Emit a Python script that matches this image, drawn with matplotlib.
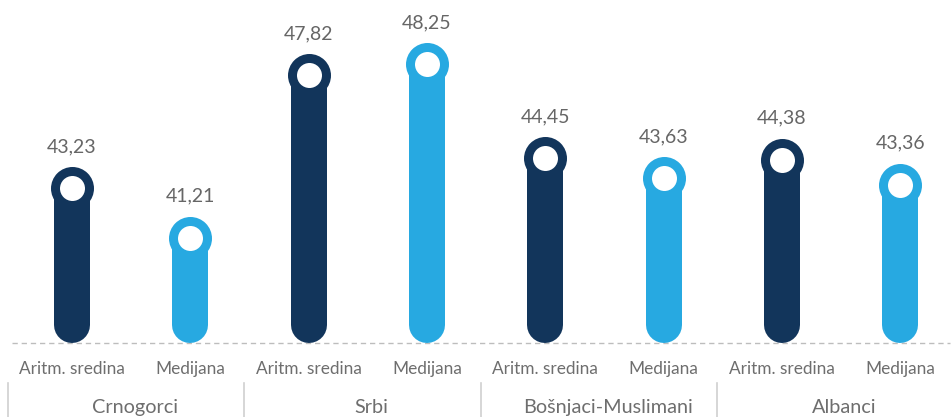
import matplotlib
matplotlib.use("Agg")
import matplotlib.pyplot as plt

plt.rcParams['font.family'] = ['Lato', 'DejaVu Sans']
plt.rcParams['lines.scale_dashes'] = False

groups = ["Crnogorci", "Srbi", "Bošnjaci-Muslimani", "Albanci"]
measures = ["Aritm. sredina", "Medijana"]
mean_vals = [43.23, 47.82, 44.45, 44.38]
median_vals = [41.21, 48.25, 43.63, 43.36]
value_labels = ["43,23", "41,21", "47,82", "48,25", "44,45", "43,63", "44,38", "43,36"]

dark = "#12355b"
light = "#27a9e1"
text_col = "#6e6e6e"

values = []
colors = []
for m, md in zip(mean_vals, median_vals):
    values += [m, md]
    colors += [dark, light]

W, H = 953, 417
fig = plt.figure(figsize=(W / 100, H / 100), dpi=100)
ax = fig.add_axes([0, 0, 1, 1])
ax.set_axis_off()

px_per_x = 118.33
x0_px = 72.0
ax.set_xlim(-x0_px / px_per_x, (W - x0_px) / px_per_x)
px_per_y = 24.63
ref_v, ref_px = 41.21, 237.7
ytop = ref_v + ref_px / px_per_y
ybot = ref_v - (H - ref_px) / px_per_y
ax.set_ylim(ybot, ytop)

base = 36.95
bar_w_px = 36
cap = (bar_w_px / 2) / px_per_y
lw = bar_w_px * 0.72

for i, (v, c) in enumerate(zip(values, colors)):
    ax.plot([i, i], [base + cap, v], color=c, lw=lw, solid_capstyle='round', zorder=2)
    ax.scatter([i], [v], s=(43 * 0.72) ** 2, color=c, zorder=3, linewidths=0)
    ax.scatter([i], [v], s=(25 * 0.72) ** 2, color='white', zorder=4, linewidths=0)
    ax.annotate(value_labels[i], (i, v), xytext=(0, 36 * 0.72), textcoords='offset points',
                ha='center', va='baseline', fontsize=14.0, color='#666666', zorder=5)
    ax.text(i, 35.88, measures[i % 2], ha='center', va='center', fontsize=12.4,
            color=text_col)

# dashed baseline
ax.plot([12 / px_per_x - x0_px / px_per_x, (W - 3 - x0_px) / px_per_x], [base, base],
        color='#bdbdbd', lw=1.0, dashes=(3.8, 2.8), zorder=1)

# group separators and labels
for g, name in enumerate(groups):
    xs = 2 * g - 0.545
    ax.plot([xs, xs], [ybot, 35.33], color='#d0d0d0', lw=1.2)
    ax.text(2 * g + 0.5 + 0.03, 34.10, name, ha='center', va='baseline', fontsize=14.3,
            color=text_col)

fig.savefig("out.png", dpi=100)
